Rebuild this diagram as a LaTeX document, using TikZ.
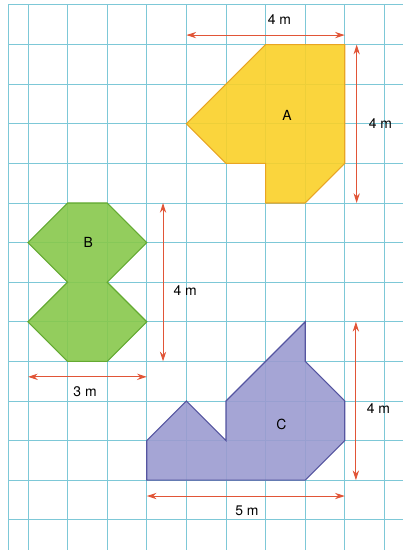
\documentclass[tikz,border=0pt]{standalone}
\usepackage{fontspec}
\setmainfont{TeX Gyre Heros}
\usetikzlibrary{arrows.meta}

\definecolor{griglia}{RGB}{125,200,215}
\definecolor{rosso}{RGB}{225,85,55}
\definecolor{giallo}{RGB}{250,208,40}
\definecolor{giallobordo}{RGB}{232,165,35}
\definecolor{verde}{RGB}{135,200,75}
\definecolor{verdebordo}{RGB}{100,170,50}
\definecolor{lilla}{RGB}{155,155,208}
\definecolor{lillabordo}{RGB}{85,85,160}

\begin{document}
\begin{tikzpicture}[quota/.style={draw=rosso, line width=0.7pt, {Stealth[length=7pt,width=4.5pt]}-{Stealth[length=7pt,width=4.5pt]}},
        figura/.style={line width=0.8pt, fill opacity=0.9},
        testo/.style={font=\fontsize{10}{12}\selectfont, inner sep=1pt}]
        \useasboundingbox (-0.707,0.126) rectangle (9.47,-13.763);

        % Griglia
        \draw[griglia, line width=0.7pt] (-0.5,0) -- (-0.5,-13.763);
        \foreach \x in {0,...,9}
            \draw[griglia, line width=0.7pt] (\x,0) -- (\x,-13.763);
        \foreach \y in {0,...,13}
            \draw[griglia, line width=0.7pt] (-0.5,-\y) -- (9.47,-\y);

        % Figure
        \filldraw[figura, fill=giallo, draw=giallobordo]
            (6,-1) -- (8,-1) -- (8,-4) -- (7,-5) -- (6,-5) -- (6,-4) -- (5,-4) -- (4,-3) -- cycle;
        \filldraw[figura, fill=verde, draw=verdebordo]
            (1,-5) -- (2,-5) -- (3,-6) -- (2,-7) -- (3,-8) -- (2,-9) -- (1,-9) -- (0,-8) -- (1,-7) -- (0,-6) -- cycle;
        \filldraw[figura, fill=lilla, draw=lillabordo]
            (3,-12) -- (3,-11) -- (4,-10) -- (5,-11) -- (5,-10) -- (7,-8) -- (7,-9) -- (8,-10) -- (8,-11) -- (7,-12) -- cycle;

        \node[testo] (A) at (6.54,-2.78) {A};
        \node[testo] (B) at (1.52,-6) {B};
        \node[testo] (C) at (6.4,-10.6) {C};

        % Quote
        \coordinate (A1) at (4,-0.76);
        \coordinate (A2) at (8,-0.76);
        \coordinate (A3) at (8.3,-1);
        \coordinate (A4) at (8.3,-5);
        \coordinate (B1) at (3.41,-5);
        \coordinate (B2) at (3.41,-9);
        \coordinate (B3) at (0,-9.39);
        \coordinate (B4) at (3,-9.39);
        \coordinate (C1) at (3,-12.4);
        \coordinate (C2) at (8,-12.4);
        \coordinate (C3) at (8.28,-8);
        \coordinate (C4) at (8.28,-12);

        \draw[quota] (A1) -- (A2);
        \draw[quota] (A3) -- (A4);
        \draw[quota] (B1) -- (B2);
        \draw[quota] (B3) -- (B4);
        \draw[quota] (C1) -- (C2);
        \draw[quota] (C3) -- (C4);

        \node[testo] (la) at (6.35,-0.38) {4 m};
        \node[testo] (lb) at (8.9,-3) {4 m};
        \node[testo] (lc) at (3.97,-7.2) {4 m};
        \node[testo] (ld) at (1.44,-9.77) {3 m};
        \node[testo] (le) at (5.53,-12.78) {5 m};
        \node[testo] (lf) at (8.85,-10.2) {4 m};
    \end{tikzpicture}
\end{document}
